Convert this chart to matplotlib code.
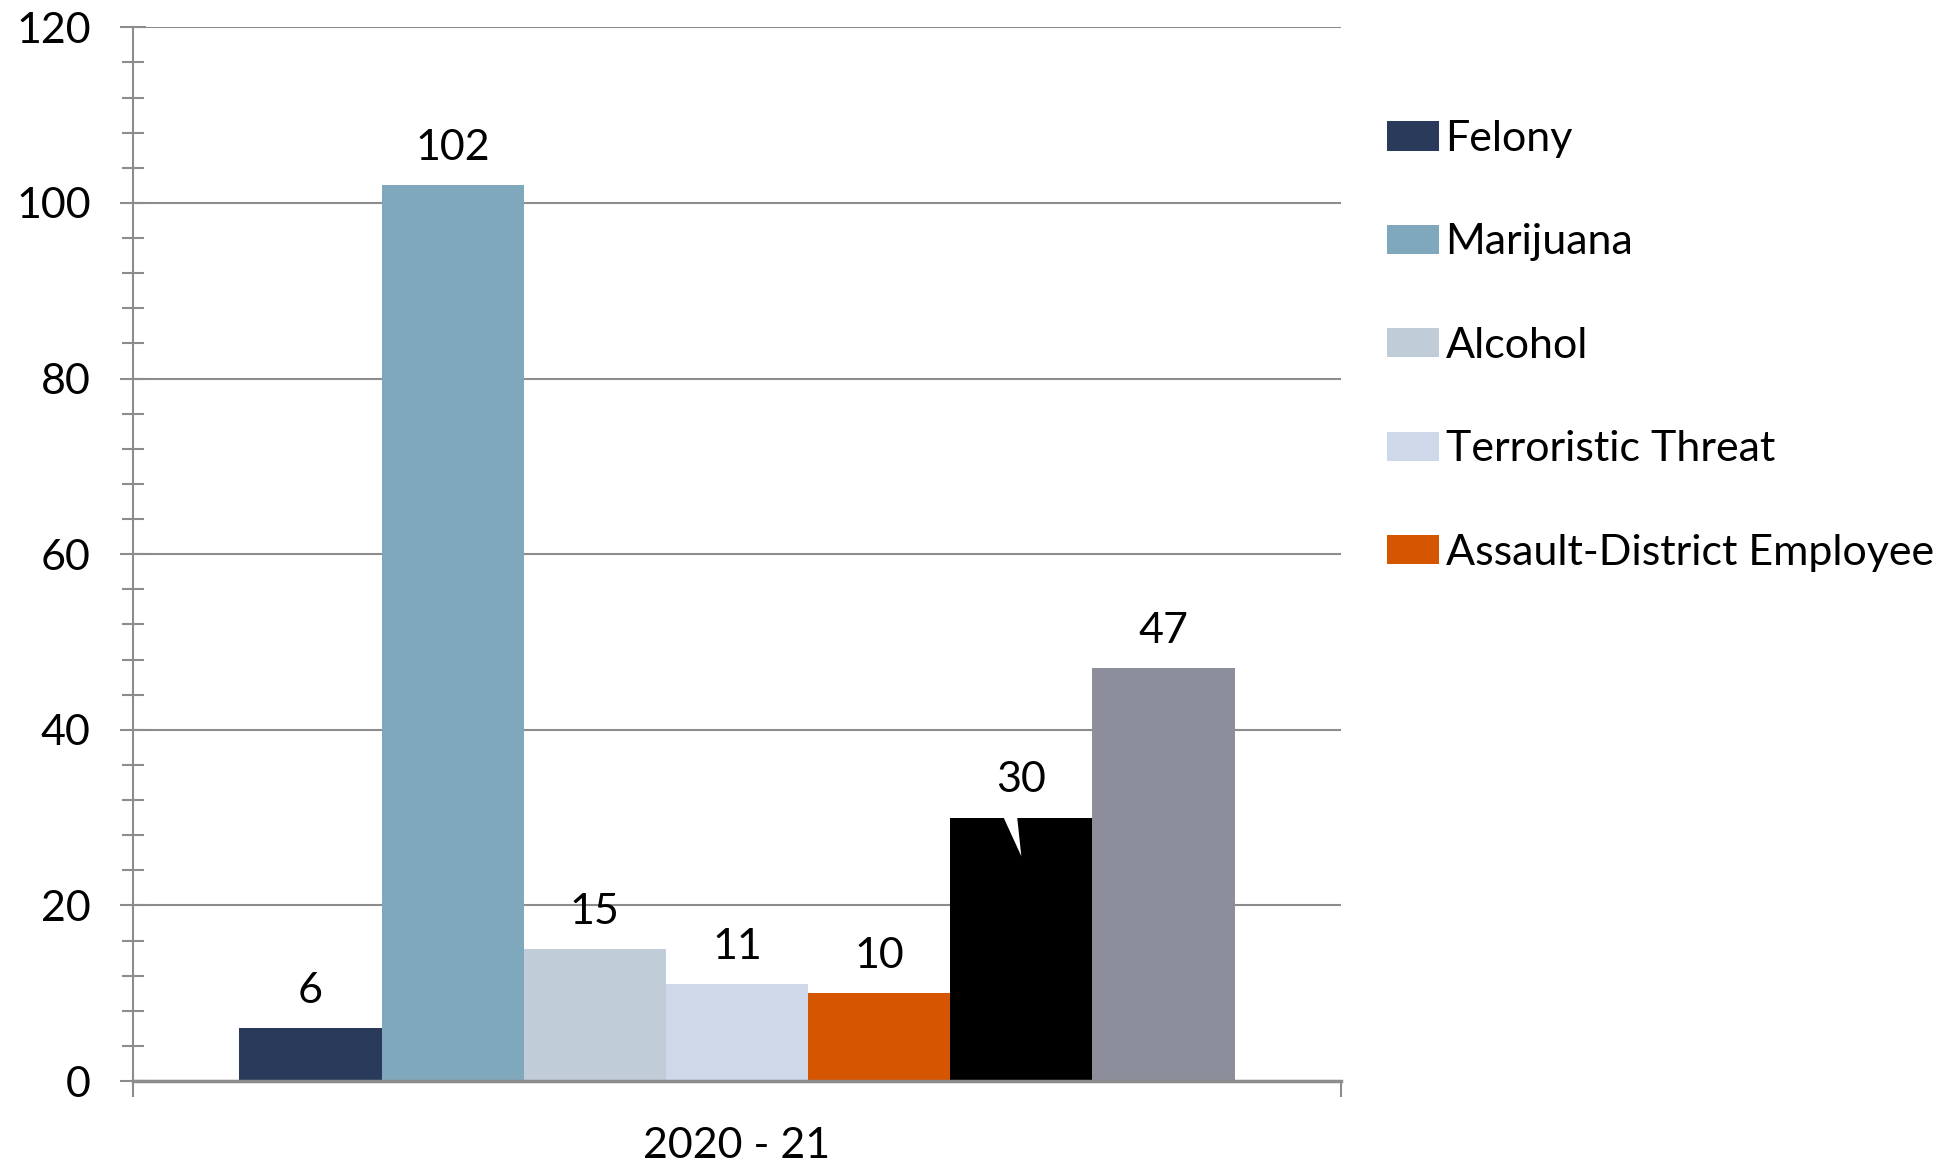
import matplotlib.pyplot as plt
from matplotlib.ticker import MultipleLocator

# values
categories = ['Felony', 'Marijuana', 'Alcohol', 'Terroristic Threat',
              'Assault-District Employee', '', '']
values = [6, 102, 15, 11, 10, 30, 47]
colors = ['#2a3a5b', '#7fa8bd', '#c0ccd7', '#cfd8e8', '#d65500', '#000000', '#8c8f9b']
year_label = '2020 - 21'

plt.rcParams['font.family'] = ['Lato', 'DejaVu Sans']
gray = '#8c8c8c'

fig = plt.figure(figsize=(19.53, 11.65), dpi=100)
ax = fig.add_axes([0.0681, 0.0721, 0.6185, 0.9044])

w = 0.1177
n = len(values)
xs = [(i - (n - 1) / 2) * w for i in range(n)]

for x, v, c, lab in zip(xs, values, colors, categories):
    ax.bar(x, v, width=w, color=c, label=lab if lab else '_nolegend_', zorder=3)
    ax.annotate(str(v), (x, v), xytext=(0, 27), textcoords='offset points',
                ha='center', va='center', fontsize=31, zorder=4)

# white callout pointer cutting into the black bar
bx = xs[5] - w / 2
ax.fill([bx + 0.37 * w, bx + 0.47 * w, bx + 0.50 * w],
        [values[5] + 0.2, values[5] + 0.2, values[5] - 4.4],
        color='white', zorder=3.5, lw=0)

ax.set_xlim(-0.5, 0.5)
ax.set_ylim(0, 120)
ax.yaxis.set_major_locator(MultipleLocator(20))
ax.yaxis.set_minor_locator(MultipleLocator(4))
ax.yaxis.grid(True, which='major', color=gray, linewidth=1.5, zorder=0)
ax.set_axisbelow(True)

ax.tick_params(axis='y', which='major', direction='inout', length=19, width=1.5,
               color=gray, pad=21, labelsize=31)
ax.tick_params(axis='y', which='minor', direction='inout', length=16, width=1.5,
               color=gray)

ax.set_xticks([-0.5, 0.5])
ax.set_xticklabels(['', ''])
ax.set_xticks([0], minor=True)
ax.set_xticklabels([year_label], minor=True)
ax.tick_params(axis='x', which='major', direction='out', length=11.5, width=1.5, color=gray)
ax.tick_params(axis='x', which='minor', length=0, pad=33, labelsize=31)

for s in ['top', 'right']:
    ax.spines[s].set_visible(False)
ax.spines['left'].set_color(gray)
ax.spines['left'].set_linewidth(1.5)
ax.spines['bottom'].set_color(gray)
ax.spines['bottom'].set_linewidth(2.5)
ax.spines['bottom'].set_zorder(5)

ax.legend(loc='upper left', bbox_to_anchor=(1387 / 1953, 1 - 120 / 1165),
          bbox_transform=fig.transFigure, frameon=False, fontsize=31,
          handlelength=1.21, handleheight=0.67, handletextpad=0.15,
          labelspacing=1.52, borderpad=0, borderaxespad=0)

fig.savefig('out.png', dpi=100)
